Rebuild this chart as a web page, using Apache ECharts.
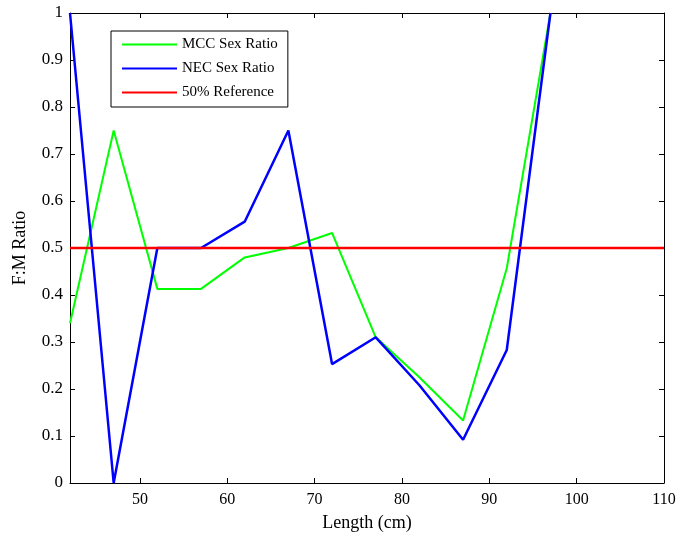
<!DOCTYPE html>
<html><head><meta charset="utf-8">
<script src="https://cdn.jsdelivr.net/npm/echarts@6/dist/echarts.min.js"></script>
<style>html,body{margin:0;padding:0;background:#fff}#c{width:679px;height:537px}</style>
</head><body><div id="c"></div>
<script>
var lengths = [42, 47, 52, 57, 62, 67, 72, 77, 82, 87, 92, 97];
var mccRatio = [0.34, 0.75, 0.413, 0.413, 0.48, 0.50, 0.532, 0.31, 0.225, 0.133, 0.457, 1.0];
var necRatio = [1.0, 0.0, 0.5, 0.5, 0.556, 0.75, 0.253, 0.31, 0.208, 0.092, 0.283, 1.0];
var refX = [42, 110];
var refY = [0.5, 0.5];
var xTicks = [50, 60, 70, 80, 90, 100, 110];
var seriesNames = ['MCC Sex Ratio', 'NEC Sex Ratio', '50% Reference'];

function pairs(xs, ys){ return xs.map(function(x,i){return [x, ys[i]];}); }

var font = 'Liberation Serif';
var chart = echarts.init(document.getElementById('c'), null, {renderer:'canvas'});
var axisCommon = {
  axisLine:{show:true, onZero:false, lineStyle:{color:'#000', width:1}},
  axisTick:{show:true, inside:true, length:5, lineStyle:{color:'#000'}},
  splitLine:{show:false}
};
chart.setOption({
  animation:false,
  backgroundColor:'#fff',
  grid:{left:70, right:15, top:13, bottom:54},
  legend:{
    orient:'vertical', left:111, top:31,
    padding:[6, 10, 7, 11], itemGap:9,
    backgroundColor:'#fff', borderColor:'#000', borderWidth:1,
    itemWidth:55, itemHeight:15,
    textStyle:{fontFamily:font, fontSize:15, color:'#000'},
    data:seriesNames.map(function(n){return {name:n, icon:'path://M0,6.5 L55,6.5 L55,8.5 L0,8.5 Z'};})
  },
  xAxis:[
    Object.assign({type:'value', min:42, max:110, position:'bottom',
      name:'Length (cm)', nameLocation:'middle', nameGap:31,
      nameTextStyle:{fontFamily:font, fontSize:18, color:'#000'},
      axisLabel:{customValues:xTicks, fontFamily:font, fontSize:16, color:'#000', margin:9},
    }, axisCommon, {axisTick:{show:true, inside:true, length:5, lineStyle:{color:'#000'}, customValues:xTicks}}),
    Object.assign({type:'value', min:42, max:110, position:'top',
      axisLabel:{show:false}
    }, axisCommon, {axisTick:{show:true, inside:true, length:5, lineStyle:{color:'#000'}, customValues:xTicks}})
  ],
  yAxis:[
    Object.assign({type:'value', min:0, max:1, interval:0.1, position:'left',
      name:'F:M Ratio', nameLocation:'middle', nameGap:41,
      nameTextStyle:{fontFamily:font, fontSize:18, color:'#000'},
      axisLabel:{fontFamily:font, fontSize:17, color:'#000', margin:7,
        formatter:function(v){return String(Math.round(v*10)/10);}}
    }, axisCommon),
    Object.assign({type:'value', min:0, max:1, interval:0.1, position:'right',
      axisLabel:{show:false}
    }, axisCommon)
  ],
  series:[
    {name:seriesNames[0], type:'line', data:pairs(lengths, mccRatio), showSymbol:false, symbol:'none',
      color:'#00ff00', lineStyle:{color:'#00ff00', width:2}},
    {name:seriesNames[1], type:'line', data:pairs(lengths, necRatio), showSymbol:false, symbol:'none',
      color:'#0000ff', lineStyle:{color:'#0000ff', width:2.5}},
    {name:seriesNames[2], type:'line', data:pairs(refX, refY), showSymbol:false, symbol:'none',
      color:'#ff0000', lineStyle:{color:'#ff0000', width:2.5}}
  ]
});
</script></body></html>
